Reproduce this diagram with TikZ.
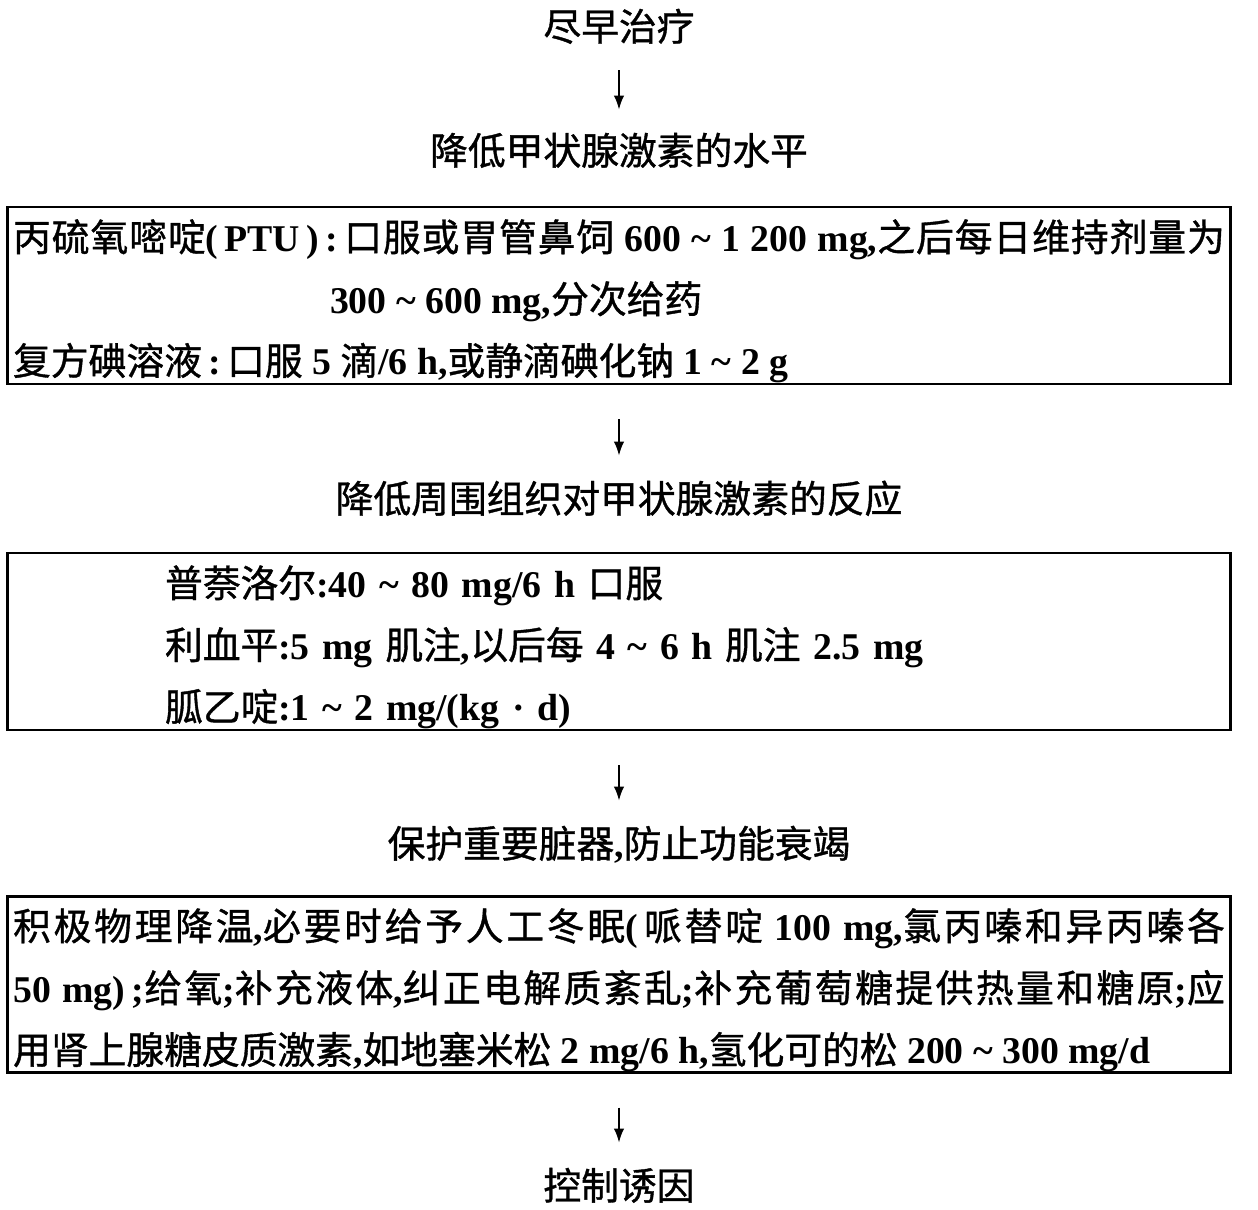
\documentclass[tikz,border=0pt]{standalone}
\usepackage{fontspec}
\setmainfont{Noto Sans CJK SC}[FakeBold=1]
\newfontfamily\en{Liberation Serif}
\usepackage{tikz}
\usetikzlibrary{arrows.meta}
\tikzset{>={Latex[length=8pt,width=6pt]}}
\XeTeXlinebreaklocale "zh"
\XeTeXlinebreakskip=0pt plus 3pt
\setlength{\parindent}{0pt}
\tolerance=9999
\hbadness=10000
\newcommand\ltn[1]{{\en\bfseries#1}}
\newcommand\td{\textasciitilde}

\begin{document}
\begin{tikzpicture}[x=0.02cm, y=-0.02cm, font=\fontsize{21.5}{35.2}\selectfont]
            \tikzset{title/.style = {inner sep=0, minimum height=1cm, text height=0.76em, text depth=0pt},
                     stepbox/.style = {draw, line width=1.6pt, minimum width=24.48cm, minimum height=3.54cm, text width=24.24cm, inner xsep=0.12cm, inner ysep=0, align=justify},
                     arr/.style = {->, line width=1.1pt, shorten >=0.5cm, shorten <=0.68cm}}
            \useasboundingbox (0, 0) rectangle (1258, 1210);
            \node[title] (t1) at (619, 34) {尽早治疗};
            \node[title] (t2) at (619, 158) {降低甲状腺激素的水平};
            \node[stepbox] (b1) at (619, 295.5) {\rule{0pt}{1.15em}丙硫氧嘧啶\ltn{(\,PTU\,)\,:\,}口服或胃管鼻饲\ltn{ 600 \td{} 1 200 mg,}之后每日维持剂量为\linebreak
                \hspace*{6.34cm}\ltn{300 \td{} 600 mg,}分次给药\par
                复方碘溶液\ltn{\,:\,}口服\ltn{ 5 }滴\ltn{/6 h,}或静滴碘化钠\ltn{ 1 \td{} 2 g}};
            \node[title] (t3) at (619, 506) {降低周围组织对甲状腺激素的反应};
            \node[stepbox, align=left] (b2) at (619, 641.5) {\rule{0pt}{1.15em}\hspace*{3.04cm}普萘洛尔\ltn{:40 \td{} 80 mg/6 h }口服\\
                \hspace*{3.04cm}利血平\ltn{:5 mg }肌注\ltn{,}以后每\ltn{ 4 \td{} 6 h }肌注\ltn{ 2.5 mg}\\
                \hspace*{3.04cm}胍乙啶\ltn{:1 \td{} 2 mg/(kg · d)}};
            \node[title] (t4) at (619, 851) {保护重要脏器\ltn{,}防止功能衰竭};
            \node[stepbox, minimum height=3.5cm] (b3) at (619, 984.5) {\rule{0pt}{1.15em}积极物理降温\ltn{,}必要时给予人工冬眠\ltn{(\,}哌替啶\ltn{ 100 mg,}氯丙嗪和异丙嗪各\linebreak
                \ltn{50 mg)\,;}给氧\ltn{;}补充液体\ltn{,}纠正电解质紊乱\ltn{;}补充葡萄糖提供热量和糖原\ltn{;}应\linebreak
                用肾上腺糖皮质激素\ltn{,}如地塞米松\ltn{ 2 mg/6 h,}氢化可的松\ltn{ 200 \td{} 300 mg/d}};
            \node[title] (t5) at (619, 1193) {控制诱因};
            \draw[arr, shorten <=0.22cm, shorten >=0.46cm] (t1) -- (t2);
            \draw[arr] (b1) -- (t3);
            \draw[arr] (b2) -- (t4);
            \draw[arr] (b3) -- (t5);
        \end{tikzpicture}
\end{document}
